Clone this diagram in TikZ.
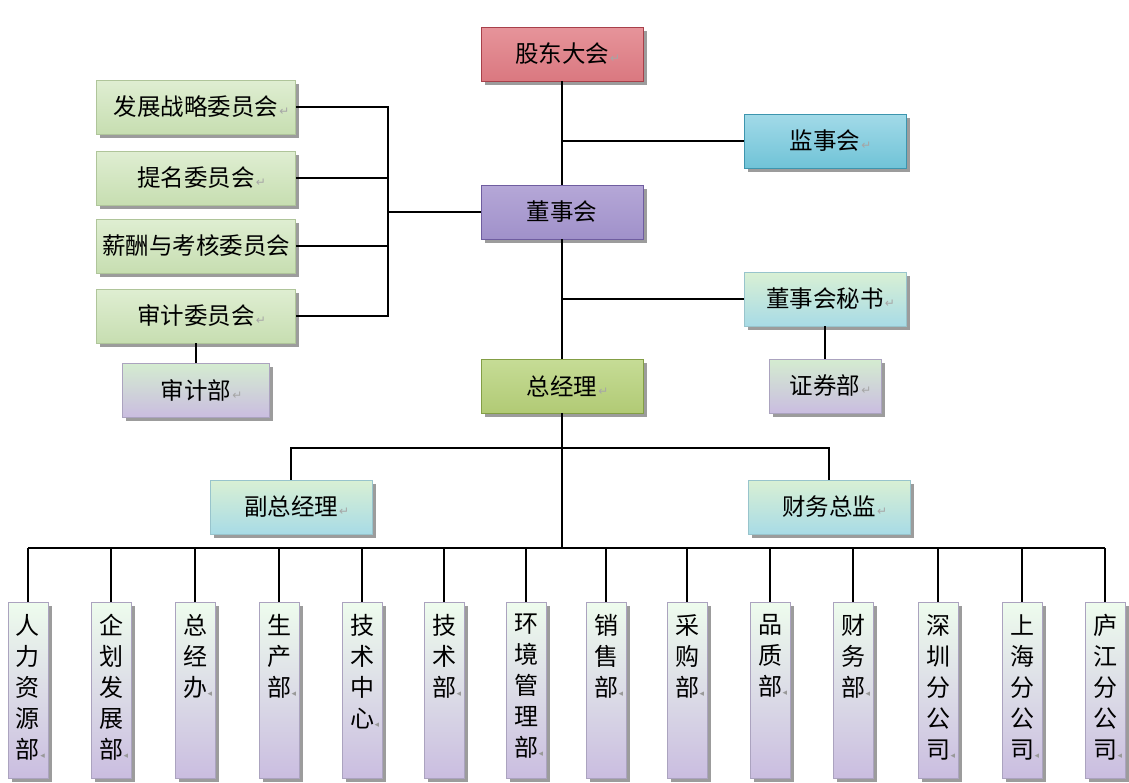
\documentclass[tikz,border=0pt]{standalone}
\usepackage{fontspec}
\newfontfamily\cjk{Noto Sans CJK SC}
\newfontfamily\symf{DejaVu Sans}
\usetikzlibrary{shadows}
\definecolor{redT}{HTML}{E6949A}\definecolor{redM}{HTML}{CF545E}\definecolor{redB}{HTML}{DA7880}\definecolor{redD}{HTML}{A8404A}
\definecolor{bluT}{HTML}{A2DAE8}\definecolor{bluM}{HTML}{4DB0C9}\definecolor{bluB}{HTML}{70C3D7}\definecolor{bluD}{HTML}{3D95AE}
\definecolor{purT}{HTML}{B5A7D7}\definecolor{purM}{HTML}{8876B9}\definecolor{purB}{HTML}{A091CA}\definecolor{purD}{HTML}{6F5DA0}
\definecolor{grnT}{HTML}{C6DC96}\definecolor{grnM}{HTML}{9EBC5C}\definecolor{grnB}{HTML}{B1CA75}\definecolor{grnD}{HTML}{839E45}
\definecolor{comT}{HTML}{DFEED2}\definecolor{comB}{HTML}{C7DEB1}\definecolor{comD}{HTML}{AFC59A}
\definecolor{cyaT}{HTML}{D9F0D4}\definecolor{cyaB}{HTML}{A8DBE6}\definecolor{cyaD}{HTML}{98C4CC}
\definecolor{lavT}{HTML}{D4ECD0}\definecolor{lavB}{HTML}{CABDE0}\definecolor{lavD}{HTML}{ABA3BF}
\newcommand\pmark{\rlap{\kern1pt\symf\fontsize{12}{12}\selectfont\color{black!35}↵}}
\newcommand\vmark{\rlap{\kern0.5pt\symf\fontsize{9}{9}\selectfont\color{black!40}◂}}
\tikzset{
  basebox/.style={minimum height=54pt, inner sep=0pt, line width=0.8pt,
    font=\cjk\fontsize{23.5}{28}\selectfont,
    drop shadow={shadow xshift=3.5pt, shadow yshift=-3.5pt, fill=black!55, opacity=0.7}},
  redbox/.style={basebox, minimum width=162pt, draw=redD, top color=redT, middle color=redM, bottom color=redB},
  blubox/.style={basebox, minimum width=162pt, draw=bluD, top color=bluT, middle color=bluM, bottom color=bluB},
  purbox/.style={basebox, minimum width=162pt, draw=purD, top color=purT, middle color=purM, bottom color=purB},
  grnbox/.style={basebox, minimum width=162pt, draw=grnD, top color=grnT, middle color=grnM, bottom color=grnB},
  combox/.style={basebox, minimum width=199pt, draw=comD, top color=comT, bottom color=comB},
  cyabox/.style={basebox, minimum width=162pt, draw=cyaD, top color=cyaT, bottom color=cyaB},
  lavbox/.style={basebox, draw=lavD, top color=lavT, bottom color=lavB},
  vbox/.style={basebox, minimum width=40pt, minimum height=176pt, draw=lavD, top color=lavT!80!green!20, bottom color=lavB},
  vtext/.style={anchor=north, inner sep=0pt, align=center, font=\cjk\fontsize{24}{31}\selectfont},
  conn/.style={line width=1.5pt, black}
}
\begin{document}
\begin{tikzpicture}[x=1pt,y=-1pt]
\useasboundingbox[fill=white] (0,0) rectangle (1129,782);
% top column
\node[redbox] (gd) at (562,54) {股东大会\pmark};
\node[blubox] (jsh) at (825,141) {监事会\pmark};
\node[purbox] (dsh) at (562,212) {董事会};
\node[cyabox] (ms) at (825,299) {董事会秘书\pmark};
\node[lavbox, minimum width=112pt] (zq) at (825,386) {证券部\pmark};
\node[grnbox] (zjl) at (562,386) {总经理\pmark};
% committees
\node[combox] (c1) at (196,107) {发展战略委员会\pmark};
\node[combox] (c2) at (196,178) {提名委员会\pmark};
\node[combox] (c3) at (196,246) {薪酬与考核委员会};
\node[combox] (c4) at (196,316) {审计委员会\pmark};
\node[lavbox, minimum width=147pt] (sjb) at (196,390) {审计部\pmark};
% deputies
\node[cyabox] (fz) at (291,507) {副总经理\pmark};
\node[cyabox] (cw) at (829,507) {财务总监\pmark};
% connectors top
\coordinate (j1) at (gd.south |- jsh.west);
\coordinate (j2) at (gd.south |- ms.west);
\draw[conn] (gd.south) -- (dsh.north);
\draw[conn] (dsh.south) -- (zjl.north);
\draw[conn] (j1) -- (jsh.west);
\draw[conn] (j2) -- (ms.west);
\draw[conn] (ms.south) -- (zq.north);
\coordinate (b1) at (388,107);
\coordinate (b4) at (388,316);
\draw[conn] (c1.east) -- (b1) -- (b4) -- (c4.east);
\draw[conn] (c2.east) -- (c2.east -| b1);
\draw[conn] (c3.east) -- (c3.east -| b1);
\draw[conn] (dsh.west) -- (dsh.west -| b1);
\draw[conn] (c4.south) -- (sjb.north);
\coordinate (h1) at (562,448);
\coordinate (bus) at (562,548);
\draw[conn] (zjl.south) -- (bus);
\draw[conn] (fz.north) |- (h1) -| (cw.north);
% bottom departments
\foreach \n/\x/\t in {1/28/{人\\力\\资\\源\\部\vmark},2/111/{企\\划\\发\\展\\部\vmark},3/195/{总\\经\\办\vmark},4/279/{生\\产\\部\vmark},5/362/{技\\术\\中\\心\vmark},6/444/{技\\术\\部\vmark},7/526/{环\\境\\管\\理\\部\vmark},8/606/{销\\售\\部\vmark},9/687/{采\\购\\部\vmark},10/770/{品\\质\\部\vmark},11/853/{财\\务\\部\vmark},12/938/{深\\圳\\分\\公\\司\vmark},13/1022/{上\\海\\分\\公\\司\vmark},14/1105/{庐\\江\\分\\公\\司\vmark}}{
  \node[vbox] (v\n) at (\x,690) {};
  \node[vtext] (vt\n) at (\x,614) {\t};
  \draw[conn] (v\n.north) -- (v\n.north |- bus);
}
\draw[conn] (v1.north |- bus) -- (v14.north |- bus);
\end{tikzpicture}
\end{document}
